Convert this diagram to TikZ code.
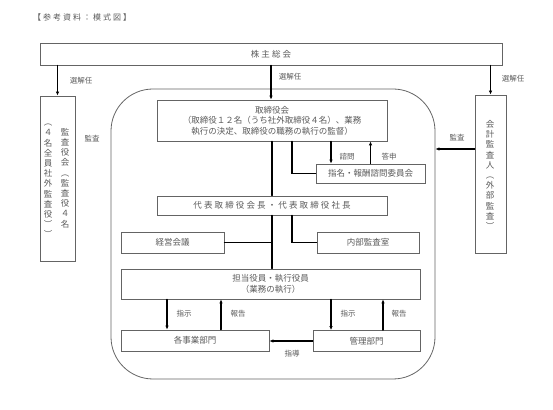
\documentclass[tikz,border=0pt]{standalone}
\usepackage{fontspec}
\setmainfont{Noto Sans CJK JP}
\newfontfamily\jpwide[LetterSpace=25]{Noto Sans CJK JP}
\usepackage{xcolor}
\definecolor{mygray}{RGB}{89,89,89}
\definecolor{myline}{RGB}{100,100,100}
\usetikzlibrary{arrows.meta,calc}

\begin{document}
\begin{tikzpicture}[x=1pt,y=1pt,line cap=round]
	\tikzstyle{kakomi}=[draw=myline,line width=.8pt,inner sep=1pt,text=mygray,font=\fontsize{8.5}{10.5}\selectfont,align=center];
	\tikzstyle{tate}=[inner sep=0pt,text=mygray,font=\fontsize{8.5}{10.2}\selectfont,align=center];
	\tikzstyle{moji}=[inner sep=1pt,text=mygray,font=\fontsize{7.5}{9}\selectfont];
	\tikzstyle{yaji}=[-{Latex[length=4pt,width=3.5pt]},line width=1.2pt];
	\tikzstyle{sen}=[line width=1.2pt];
	\useasboundingbox (0,0) rectangle (553,409);
	% title
	\node[anchor=west,inner sep=0pt,text=mygray,font=\fontsize{8}{10}\selectfont\jpwide] (title) at (33,392) {【参考資料：模式図】};
	% outer frame
	\node[draw=myline,line width=.8pt,rounded corners=42pt,minimum width=324pt,minimum height=290pt] (kaisha) at (273,175) {};
	% boxes
	\node[kakomi,minimum width=462pt,minimum height=22pt,font=\fontsize{8.5}{10}\selectfont\jpwide] (soukai) at (271,355) {株主総会};
	\node[kakomi,minimum width=35pt,minimum height=165pt] (kansa) at (57.5,230.5) {};
	\node[tate] (kansaR) at (65,231) {監\\査\\役\\会\\︵\\監\\査\\役\\４\\名};
	\node[tate] (kansaL) at (48,228) {︵\\４\\名\\全\\員\\社\\外\\監\\査\\役\\︶\\︶};
	\node[kakomi,minimum width=31pt,minimum height=158pt] (kaikei) at (490.5,235) {};
	\node[tate] (kaikeiT) at (490,234) {会\\計\\監\\査\\人\\︵\\外\\部\\監\\査\\︶};
	\node[kakomi,minimum width=230pt,minimum height=41pt] (tori) at (272,288.5) {取締役会\\（取締役１２名（うち社外取締役４名）、業務\\執行の決定、取締役の職務の執行の監督）};
	\node[kakomi,minimum width=109pt,minimum height=19pt] (shimei) at (370.5,235.5) {指名・報酬諮問委員会};
	\node[kakomi,minimum width=230pt,minimum height=19pt,font=\fontsize{8.5}{10}\selectfont\jpwide] (daihyo) at (272,203.5) {代表取締役会長・代表取締役社長};
	\node[kakomi,minimum width=103pt,minimum height=21pt] (keiei) at (172.5,166.5) {経営会議};
	\node[kakomi,minimum width=102pt,minimum height=21pt] (kansashitsu) at (368,166.5) {内部監査室};
	\node[kakomi,minimum width=299pt,minimum height=30pt] (tanto) at (270.5,125) {担当役員・執行役員\\（業務の執行）};
	\node[kakomi,minimum width=148pt,minimum height=21pt] (jigyo) at (195,68.5) {各事業部門};
	\node[kakomi,minimum width=107pt,minimum height=21pt] (kanri) at (366.5,68) {管理部門};
	% arrows from shareholders
	\draw[yaji] (soukai.south -| kansa.north) -- (kansa.north);
	\draw[yaji] (soukai.south -| 271,0) -- (tori.north -| 271,0);
	\draw[yaji] (soukai.south -| kaikei.north) -- (kaikei.north);
	\node[moji] (sen1) at (81,328) {選解任};
	\node[moji] (sen2) at (290,332) {選解任};
	\node[moji] (sen3) at (513,330) {選解任};
	% audit
	\node[moji] (kansa1) at (92,270) {監査};
	\draw[yaji] (kaikei.west |- 0,260) -- (kaisha.east |- 0,260);
	\node[moji] (kansa2) at (457,271) {監査};
	% board
	\draw[sen] (tori.south) -- (daihyo.north);
	\draw[sen] ($(tori.south)+(20,0)$) |- (shimei.west);
	\draw[yaji] (tori.south -| 331,0) -- (shimei.north -| 331,0);
	\draw[yaji] (shimei.north) -- (shimei.north |- tori.south);
	\node[moji] (shimon) at (347,252) {諮問};
	\node[moji] (toshin) at (389,252) {答申};
	% representative directors
	\draw[sen] (daihyo.south) -- (daihyo.south |- tanto.north);
	\draw[sen] (keiei.east) -- (keiei.east -| daihyo.south);
	\draw[sen] ($(daihyo.south)+(20,0)$) |- (kansashitsu.west);
	% execution
	\draw[yaji] (tanto.south -| 167,0) -- (jigyo.north -| 167,0);
	\draw[yaji] (jigyo.north -| 221,0) -- (tanto.south -| 221,0);
	\draw[yaji] (tanto.south -| 331,0) -- (kanri.north -| 331,0);
	\draw[yaji] (kanri.north -| 383,0) -- (tanto.south -| 383,0);
	\node[moji] (shiji1) at (184,95) {指示};
	\node[moji] (hokoku1) at (238,95) {報告};
	\node[moji] (shiji2) at (348,95) {指示};
	\node[moji] (hokoku2) at (399,95) {報告};
	\draw[yaji] (kanri.west) -- (kanri.west -| jigyo.east);
	\node[moji] (shido) at (292,55) {指導};
\end{tikzpicture}
\end{document}
